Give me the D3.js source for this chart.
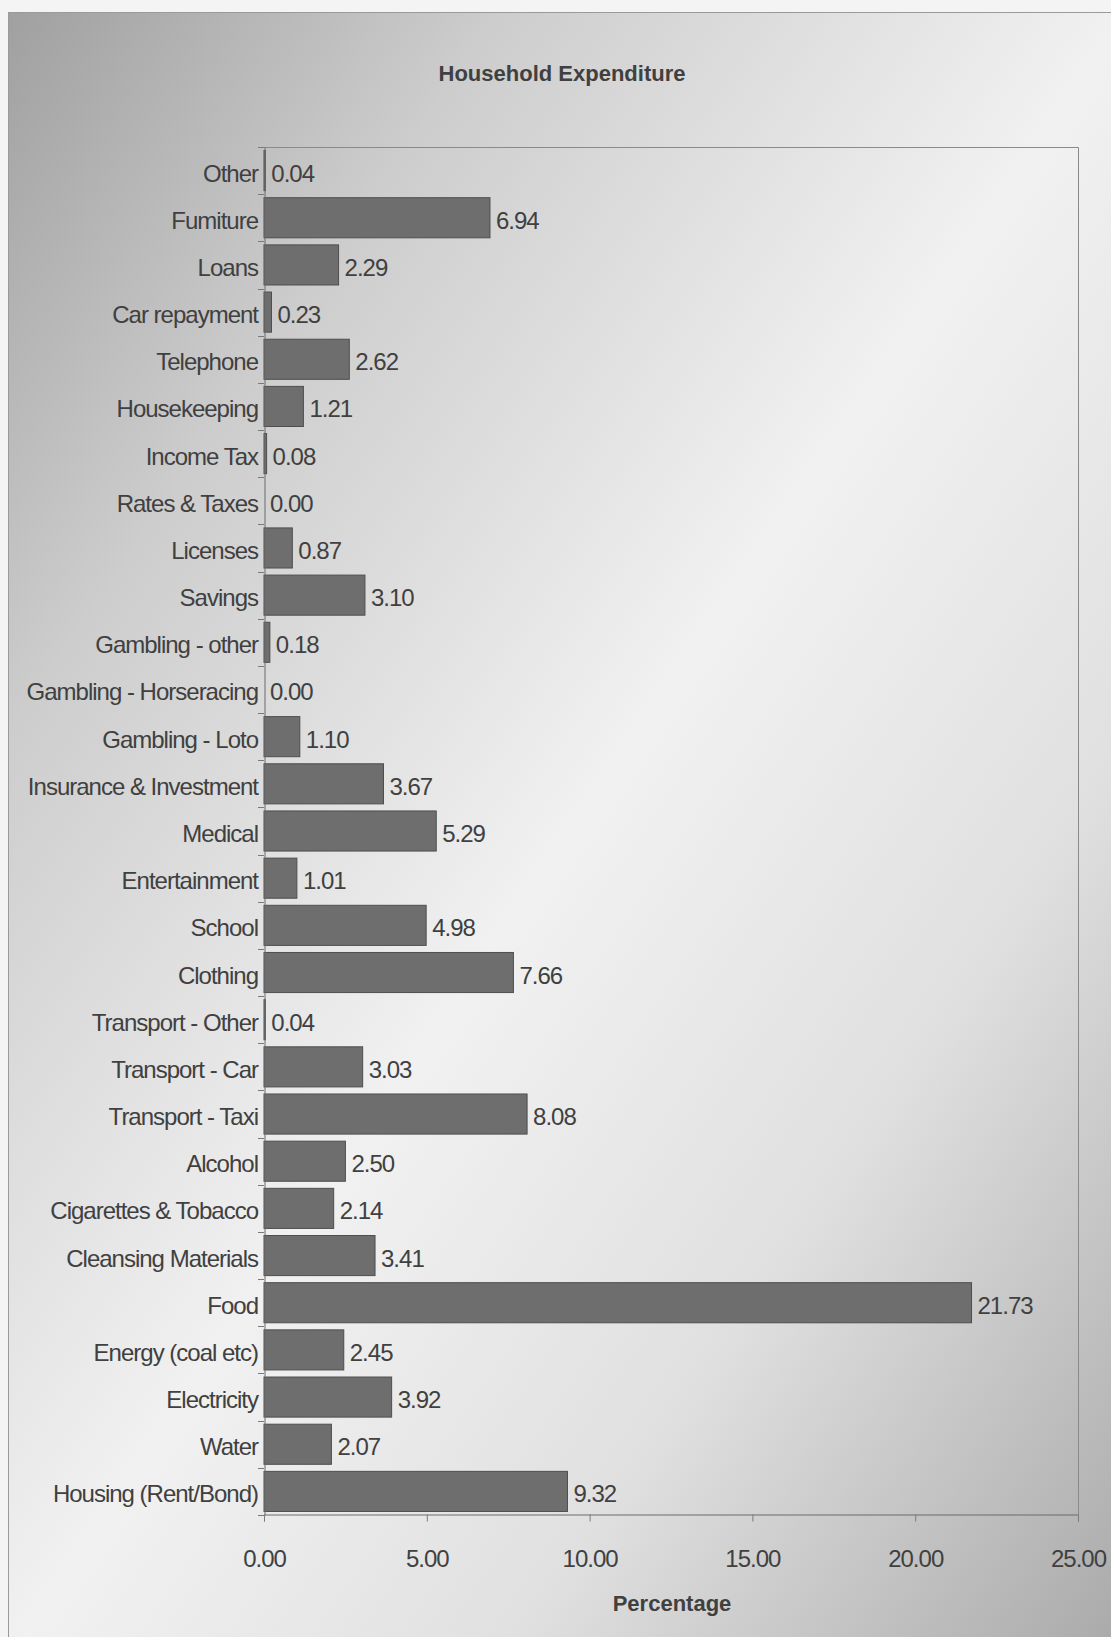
<!DOCTYPE html>
<html>
<head>
<meta charset="utf-8">
<script src="https://cdn.jsdelivr.net/npm/d3@7"></script>
<style>
  html, body { margin: 0; padding: 0; background: #ffffff; }
  svg { display: block; }
  text { font-family: "Liberation Sans", Arial, sans-serif; fill: #404040; }
</style>
</head>
<body>
<svg id="chart" width="1111" height="1637"></svg>
<script>
// Household expenditure shares, listed top to bottom as displayed
const categories = [
  "Other", "Furniture", "Loans", "Car repayment", "Telephone", "Housekeeping",
  "Income Tax", "Rates & Taxes", "Licenses", "Savings", "Gambling - other",
  "Gambling - Horseracing", "Gambling - Loto", "Insurance & Investment",
  "Medical", "Entertainment", "School", "Clothing", "Transport - Other",
  "Transport - Car", "Transport - Taxi", "Alcohol", "Cigarettes & Tobacco",
  "Cleansing Materials", "Food", "Energy (coal etc)", "Electricity", "Water",
  "Housing (Rent/Bond)"
];
const categoryLabels = [
  "Other", "Fumiture", "Loans", "Car repayment", "Telephone", "Housekeeping",
  "Income Tax", "Rates & Taxes", "Licenses", "Savings", "Gambling - other",
  "Gambling - Horseracing", "Gambling - Loto", "Insurance & Investment",
  "Medical", "Entertainment", "School", "Clothing", "Transport - Other",
  "Transport - Car", "Transport - Taxi", "Alcohol", "Cigarettes & Tobacco",
  "Cleansing Materials", "Food", "Energy (coal etc)", "Electricity", "Water",
  "Housing (Rent/Bond)"
];
const percentages = [
  0.04, 6.94, 2.29, 0.23, 2.62, 1.21,
  0.08, 0.00, 0.87, 3.10, 0.18,
  0.00, 1.10, 3.67,
  5.29, 1.01, 4.98, 7.66, 0.04,
  3.03, 8.08, 2.50, 2.14,
  3.41, 21.73, 2.45, 3.92, 2.07,
  9.32
];
const xTicks = [0, 5, 10, 15, 20, 25];

const titleText = "Household Expenditure";
const xAxisTitle = "Percentage";

const W = 1111, H = 1637;
const plot = { left: 264, right: 1078, top: 147, bottom: 1515 };

const svg = d3.select("#chart");
const defs = svg.append("defs");

// diagonal grey-white-grey backdrop
const grad = defs.append("linearGradient")
  .attr("id", "bg")
  .attr("x1", 0).attr("y1", 0).attr("x2", 1).attr("y2", 1);
grad.append("stop").attr("offset", "0").attr("stop-color", "#a0a0a0");
grad.append("stop").attr("offset", "0.22").attr("stop-color", "#cdcdcd");
grad.append("stop").attr("offset", "0.5").attr("stop-color", "#f1f1f1");
grad.append("stop").attr("offset", "0.72").attr("stop-color", "#e0e0e0");
grad.append("stop").attr("offset", "1").attr("stop-color", "#a8a8a8");

svg.append("rect")
  .attr("x", 0).attr("y", 0).attr("width", W).attr("height", H)
  .attr("fill", "#f4f4f4");
svg.append("rect")
  .attr("x", 8.5).attr("y", 12.5).attr("width", W + 10).attr("height", H + 10)
  .attr("fill", "url(#bg)")
  .attr("stroke", "#9a9a9a").attr("stroke-width", 1);

const x = d3.scaleLinear()
  .domain([0, 25])
  .range([plot.left, plot.right]);

const y = d3.scaleBand()
  .domain(categories)
  .range([plot.top, plot.bottom])
  .paddingInner(0.15)
  .paddingOuter(0.075);

const band = (plot.bottom - plot.top) / categories.length;

// plot frame (top and right edges)
svg.append("path")
  .attr("d", `M${plot.left},${plot.top + 0.5}H${plot.right + 0.5}V${plot.bottom}`)
  .attr("fill", "none")
  .attr("stroke", "#8a8a8a")
  .attr("stroke-width", 1);

// bars
svg.append("g")
  .selectAll("rect")
  .data(categories)
  .join("rect")
  .attr("x", x(0))
  .attr("y", d => y(d))
  .attr("width", (d, i) => Math.max(0, x(percentages[i]) - x(0)))
  .attr("height", y.bandwidth())
  .attr("fill", "#6e6e6e")
  .attr("stroke", "#4e4e4e")
  .attr("stroke-width", 1);

// category axis
const yAxis = d3.axisLeft(y).tickSize(0).tickFormat("");
const gy = svg.append("g")
  .attr("transform", `translate(${plot.left + 0.5},0)`)
  .call(yAxis);
gy.select(".domain").attr("stroke", "#6a6a6a");

// tick marks between categories
svg.append("g")
  .selectAll("line")
  .data(d3.range(categories.length + 1))
  .join("line")
  .attr("x1", plot.left - 6).attr("x2", plot.left)
  .attr("y1", i => Math.round(plot.top + i * band) + 0.5)
  .attr("y2", i => Math.round(plot.top + i * band) + 0.5)
  .attr("stroke", "#7a7a7a");

// category labels
svg.append("g")
  .selectAll("text")
  .data(categories)
  .join("text")
  .attr("x", 258)
  .attr("y", d => y(d) + y.bandwidth() / 2 + 11)
  .attr("text-anchor", "end")
  .attr("font-size", 24)
  .attr("letter-spacing", -1)
  .text((d, i) => categoryLabels[i]);

// value labels
svg.append("g")
  .selectAll("text")
  .data(categories)
  .join("text")
  .attr("x", (d, i) => x(percentages[i]) + 6)
  .attr("y", d => y(d) + y.bandwidth() / 2 + 11)
  .attr("font-size", 24)
  .attr("letter-spacing", -1)
  .text((d, i) => d3.format(".2f")(percentages[i]));

// value axis
const xAxis = d3.axisBottom(x)
  .tickValues(xTicks)
  .tickFormat(d3.format(".2f"))
  .tickSize(7)
  .tickPadding(28);
const gx = svg.append("g")
  .attr("transform", `translate(0,${plot.bottom - 0.5})`)
  .call(xAxis);
gx.select(".domain").attr("stroke", "#6a6a6a");
gx.selectAll(".tick line").attr("stroke", "#7a7a7a");
gx.selectAll(".tick text")
  .attr("font-family", "\"Liberation Sans\", Arial, sans-serif")
  .attr("font-size", 24)
  .attr("letter-spacing", -1)
  .attr("fill", "#404040");

// titles
svg.append("text")
  .attr("x", 562).attr("y", 81)
  .attr("text-anchor", "middle")
  .attr("font-size", 22)
  .attr("font-weight", "bold")
  .attr("fill", "#333333")
  .text(titleText);

svg.append("text")
  .attr("x", 672).attr("y", 1611)
  .attr("text-anchor", "middle")
  .attr("font-size", 22)
  .attr("font-weight", "bold")
  .attr("fill", "#333333")
  .text(xAxisTitle);
</script>
</body>
</html>
